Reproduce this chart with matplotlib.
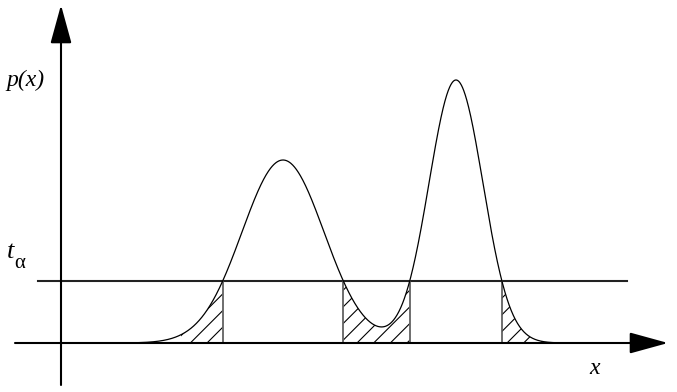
import numpy as np
import matplotlib
matplotlib.use("Agg")
import matplotlib.pyplot as plt
from matplotlib.patches import ArrowStyle

# --- data (units: pixels-ish relative to origin) ---
peak_centers = [222, 395]
peak_heights = [183, 263]
peak_widths = [41, 27]
threshold = 62
x_range = [0, 600]

x_axis_span = [-46, 607]
y_axis_span = [-42, 338]
thr_span = [-23, 566]

plt.rcParams['hatch.linewidth'] = 0.8

fig = plt.figure(figsize=(6.77, 3.92), dpi=100)
ax = fig.add_axes([0, 0, 1, 1])
ax.set_xlim(-61, 616)
ax.set_ylim(-49, 343)
ax.axis('off')

x = np.linspace(x_range[0], x_range[1], 2000)
p = np.zeros_like(x)
for c, h, w in zip(peak_centers, peak_heights, peak_widths):
    p += h * np.exp(-(x - c) ** 2 / (2 * w ** 2))

# hatched regions below threshold
below = p < threshold
ax.fill_between(x, 0, p, where=below & (x > 120) & (x < 560), facecolor='none',
                edgecolor='black', hatch='//', linewidth=0, zorder=1)

ax.plot(x, p, color='black', lw=0.9, zorder=3)

# threshold line
ax.plot(thr_span, [threshold, threshold], color='#222222', lw=1.5, zorder=2)

# vertical lines at crossings
s = np.sign(p - threshold)
idx = np.where(np.diff(s) != 0)[0]
for i in idx:
    xc = x[i] + (threshold - p[i]) * (x[i + 1] - x[i]) / (p[i + 1] - p[i])
    ax.plot([xc, xc], [0, threshold], color='#555555', lw=1.2, zorder=2)

style = ArrowStyle('-|>', head_length=1.2, head_width=0.33)
ax.annotate('', xy=(x_axis_span[1], 0), xytext=(x_axis_span[0], 0),
            arrowprops=dict(arrowstyle=style, mutation_scale=20, color='black',
                            lw=1.5, shrinkA=0, shrinkB=0), zorder=4)
ax.annotate('', xy=(0, y_axis_span[1]), xytext=(0, y_axis_span[0]),
            arrowprops=dict(arrowstyle=style, mutation_scale=20, color='black',
                            lw=1.5, shrinkA=0, shrinkB=0), zorder=4)

font = dict(family='Liberation Serif', style='italic', size=17)
ax.text(-55, 263, 'p(x)', ha='left', va='center', **font)
ax.text(-54, 91, 't', ha='left', va='center', family='Liberation Serif',
        style='italic', size=19)
ax.text(-47, 80, 'α', ha='left', va='center', family='Liberation Serif', size=15)
ax.text(534, -25, 'x', ha='center', va='center', **font)

fig.savefig('out.png', dpi=100)
